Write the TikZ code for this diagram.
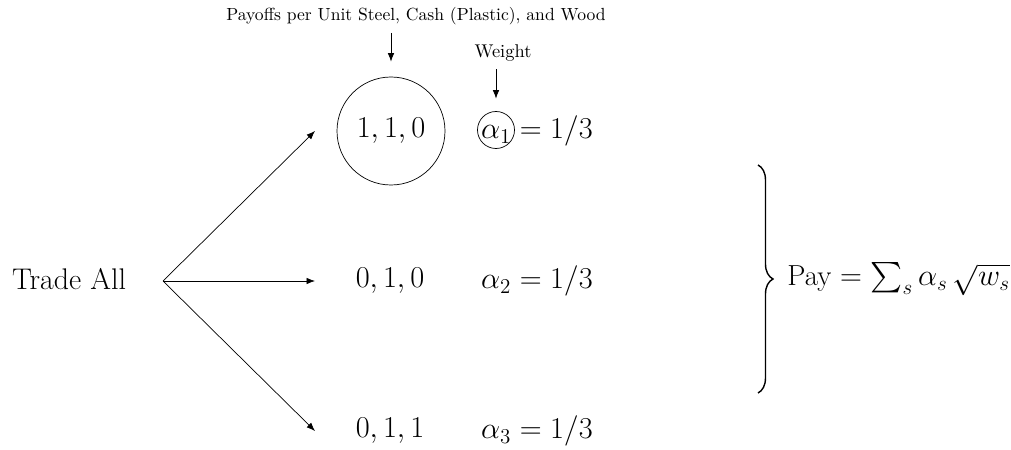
\documentclass[tikz,border=0pt]{standalone}
\usepackage{amsmath}
\usetikzlibrary{arrows.meta,decorations.pathreplacing}

\begin{document}
\begin{tikzpicture}[every node/.style={font=\fontsize{17}{20}\selectfont}, >={Latex[length=1.7mm, width=1.3mm]}]
	\useasboundingbox (0,0) rectangle (20.22,9);
	\node (trade) at (1.38,3.42) {Trade All};
	\coordinate (split) at (3.26,3.38);
	\coordinate (t1) at (6.30,6.38);
	\coordinate (t2) at (6.30,3.38);
	\coordinate (t3) at (6.30,0.38);
	\node[draw, circle, minimum size=2.16cm, inner sep=0pt] (p1) at (7.82,6.38) {$1,1,0$};
	\node (p2) at (7.80,3.38) {$0,1,0$};
	\node (p3) at (7.80,0.38) {$0,1,1$};
	\draw[->] (split) -- (t1);
	\draw[->] (split) -- (t2);
	\draw[->] (split) -- (t3);
	\node[anchor=west] (a1) at (9.50,6.38) {$\alpha_1 = 1/3$};
	\node[anchor=west] (a2) at (9.50,3.38) {$\alpha_2 = 1/3$};
	\node[anchor=west] (a3) at (9.50,0.38) {$\alpha_3 = 1/3$};
	\node[draw, circle, minimum size=0.74cm, inner sep=0pt] (w1) at (9.92,6.40) {};
	\node[font=\fontsize{10}{12}\selectfont] (payoffs) at (8.32,8.68) {Payoffs per Unit Steel, Cash (Plastic), and Wood};
	\node[font=\fontsize{10.5}{12}\selectfont] (weight) at (10.06,7.94) {Weight};
	\draw[->, shorten >=0.3cm] ([yshift=-1pt]payoffs.south -| p1) -- (p1);
	\draw[->, shorten >=0.25cm] ([yshift=-1pt]weight.south -| w1) -- (w1);
	\coordinate (btop) at (15.16,5.70);
	\coordinate (bbot) at (15.16,1.14);
	\draw[decorate, decoration={brace, amplitude=0.3cm}, line width=0.8pt] (btop) -- (bbot);
	\node[anchor=west, inner sep=0pt, font=\fontsize{16.5}{20}\selectfont] (pay) at (15.74,3.42) {Pay $= \sum_s \alpha_s \,\sqrt{w_s}$};
\end{tikzpicture}
\end{document}
